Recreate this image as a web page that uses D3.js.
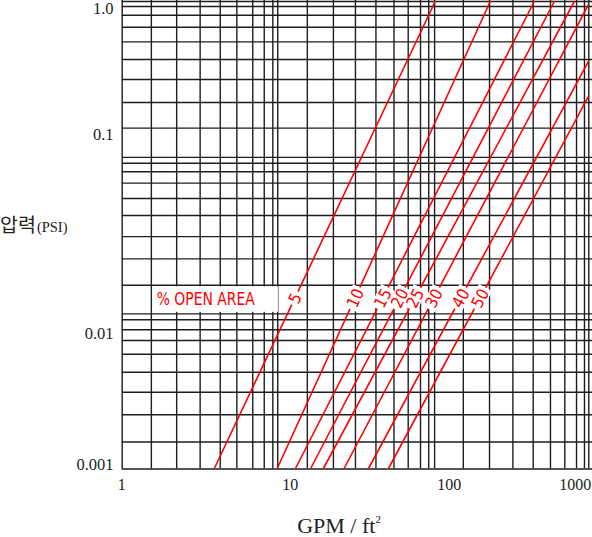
<!DOCTYPE html>
<html>
<head>
<meta charset="utf-8">
<script src="https://cdn.jsdelivr.net/npm/d3@7"></script>
<style>
  body { margin: 0; background: #fff; }
  svg { display: block; }
</style>
</head>
<body>
<div id="chart"></div>
<script>
// Grid lines as drawn on the chart paper (GPM/ft2 and PSI)
let xGrid = [1, 1.54, 2.24, 3.17, 4.27, 5.46, 6.91, 8.19, 9.3, 10,
  15.5, 22.8, 31.6, 42.8, 55.9, 69, 82.8, 93.5, 102,
  156, 230, 325, 439, 567, 701, 834, 938, 1000];
let yGrid = [1, 0.929, 0.817, 0.684, 0.551, 0.424, 0.316, 0.225, 0.154, 0.1,
  0.0917, 0.0808, 0.0683, 0.0544, 0.0423, 0.031, 0.0223, 0.0151, 0.0099,
  0.00907, 0.00782, 0.00668, 0.00545, 0.00418, 0.00311, 0.00223, 0.00149, 0.001];

// Tick labels
let xTicks = [1, 10, 100, 1000];
let xTickLabels = ['1', '10', '100', '1000'];
let yTicks = [1, 0.1, 0.01, 0.001];
let yTickLabels = ['1.0', '0.1', '0.01', '0.001'];

// % open area curves: start and end point of each straight line
let openArea = [5, 10, 15, 20, 25, 30, 40, 50];
let startFlow = [3.94, 10.0, 13.1, 16.4, 19.8, 26.9, 38.6, 51.9];
let startPsi = [0.001, 0.001, 0.001, 0.001, 0.001, 0.001, 0.001, 0.001];
let endFlow = [104, 235, 451, 607, 816, 1000, 1000, 1000];
let endPsi = [1, 1, 1, 1, 1, 0.943, 0.408, 0.243];
let labelPsi = 0.0124;

// Set up SVG
let svgWidth = 592;
let svgHeight = 537;
let plot = {left: 121.7, right: 588.3, top: 1, bottom: 468.5};

let svg = d3.select('#chart')
  .append('svg')
  .attr('width', svgWidth)
  .attr('height', svgHeight);

// scales
let x = d3.scaleLog().domain([1, 1000]).range([plot.left, plot.right]);
let y = d3.scaleLog().domain([0.001, 1]).range([plot.bottom, plot.top]);

let gridColor = '#1e1e1e';

// vertical grid
let xGridAxis = svg.append('g')
  .attr('transform', `translate(0, ${plot.bottom})`)
  .call(d3.axisBottom(x).tickValues(xGrid).tickSize(-plot.bottom).tickFormat(''));
// horizontal grid
let yGridAxis = svg.append('g')
  .attr('transform', `translate(${plot.left}, 0)`)
  .call(d3.axisLeft(y).tickValues(yGrid).tickSize(-(svgWidth - plot.left)).tickFormat(''));

[xGridAxis, yGridAxis].forEach(g => {
  g.select('.domain').remove();
  g.selectAll('.tick line')
    .attr('stroke', gridColor)
    .attr('stroke-width', 1.4);
});

// clip for curves
svg.append('clipPath').attr('id', 'plotClip')
  .append('rect')
  .attr('x', plot.left)
  .attr('y', 0)
  .attr('width', plot.right - plot.left + 2)
  .attr('height', plot.bottom);

let curves = openArea.map((a, i) => ({
  area: a,
  pts: [[startFlow[i], startPsi[i]], [endFlow[i], endPsi[i]]]
}));

let line = d3.line()
  .x(d => x(d[0]))
  .y(d => y(d[1]));

svg.append('g')
  .attr('clip-path', 'url(#plotClip)')
  .selectAll('path')
  .data(curves)
  .enter()
  .append('path')
  .attr('d', d => line(d.pts))
  .attr('fill', 'none')
  .attr('stroke', '#ff0000')
  .attr('stroke-width', 1.6);

// "% OPEN AREA" label with white box
let cadFont = '"Liberation Sans Narrow", "DejaVu Sans Condensed", "DejaVu Sans", sans-serif';
let boxX = x(1.58), boxX2 = x(10.1);
svg.append('rect')
  .attr('x', boxX)
  .attr('y', y(0.0151) + 1.5)
  .attr('width', boxX2 - boxX)
  .attr('height', y(0.0099) - y(0.0151) - 3)
  .attr('fill', '#fff');

svg.append('text')
  .attr('x', x(1.68))
  .attr('y', y(labelPsi) + 6.5)
  .attr('font-family', cadFont)
  .attr('font-size', '17px')
  .attr('fill', '#ff0000')
  .attr('textLength', 98)
  .attr('lengthAdjust', 'spacingAndGlyphs')
  .text('% OPEN AREA');

// number labels sitting on each curve
let curveLabels = svg.append('g');
curves.forEach(d => {
  let p0 = d.pts[0], p1 = d.pts[1];
  let t = (Math.log(labelPsi) - Math.log(p0[1])) / (Math.log(p1[1]) - Math.log(p0[1]));
  let q = Math.exp(Math.log(p0[0]) + t * (Math.log(p1[0]) - Math.log(p0[0])));
  let cx = x(q), cy = y(labelPsi);
  let angle = Math.atan2(y(p1[1]) - y(p0[1]), x(p1[0]) - x(p0[0])) * 180 / Math.PI;
  let txt = String(d.area);
  let len = txt.length * 9.4;
  let g = curveLabels.append('g')
    .attr('transform', `translate(${cx}, ${cy}) rotate(${angle})`);
  g.append('rect')
    .attr('x', -len / 2 - 2.5)
    .attr('y', -7.5)
    .attr('width', len + 5)
    .attr('height', 15)
    .attr('fill', '#fff');
  g.append('text')
    .attr('text-anchor', 'middle')
    .attr('dy', '0.36em')
    .attr('font-family', cadFont)
    .attr('font-size', '16.5px')
    .attr('fill', '#ff0000')
    .attr('textLength', len)
    .attr('lengthAdjust', 'spacingAndGlyphs')
    .text(txt);
});

// tick labels
let serif = '"Liberation Serif", "DejaVu Serif", serif';
let xLabelShift = [0, 13, 16.5, -13];
svg.append('g').selectAll('text')
  .data(xTicks)
  .enter()
  .append('text')
  .attr('x', (d, i) => x(d) + xLabelShift[i])
  .attr('y', plot.bottom + 21)
  .attr('text-anchor', 'middle')
  .attr('font-family', serif)
  .attr('font-size', '16px')
  .attr('fill', '#222')
  .text((d, i) => xTickLabels[i]);

let yLabelShift = [7.5, -23, 21, -4];
svg.append('g').selectAll('text')
  .data(yTicks)
  .enter()
  .append('text')
  .attr('x', 113.5)
  .attr('y', (d, i) => y(d) + yLabelShift[i])
  .attr('dy', '0.35em')
  .attr('text-anchor', 'end')
  .attr('font-family', serif)
  .attr('font-size', '16.5px')
  .attr('fill', '#222')
  .text((d, i) => yTickLabels[i]);

// axis titles
let xTitle = svg.append('text')
  .attr('x', 339)
  .attr('y', 533)
  .attr('text-anchor', 'middle')
  .attr('font-family', serif)
  .attr('font-size', '22px')
  .attr('fill', '#222');
xTitle.append('tspan').text('GPM / ft');
xTitle.append('tspan')
  .attr('font-size', '11px')
  .attr('dy', -10)
  .text('2');

let yTitle = svg.append('text')
  .attr('x', 0)
  .attr('y', 232)
  .attr('fill', '#222');
yTitle.append('tspan')
  .attr('font-family', '"Noto Sans CJK KR", sans-serif')
  .attr('font-size', '19.5px')
  .text('압력');
yTitle.append('tspan')
  .attr('font-family', serif)
  .attr('font-size', '14.5px')
  .attr('dx', 1)
  .text('(PSI)');
</script>
</body>
</html>
